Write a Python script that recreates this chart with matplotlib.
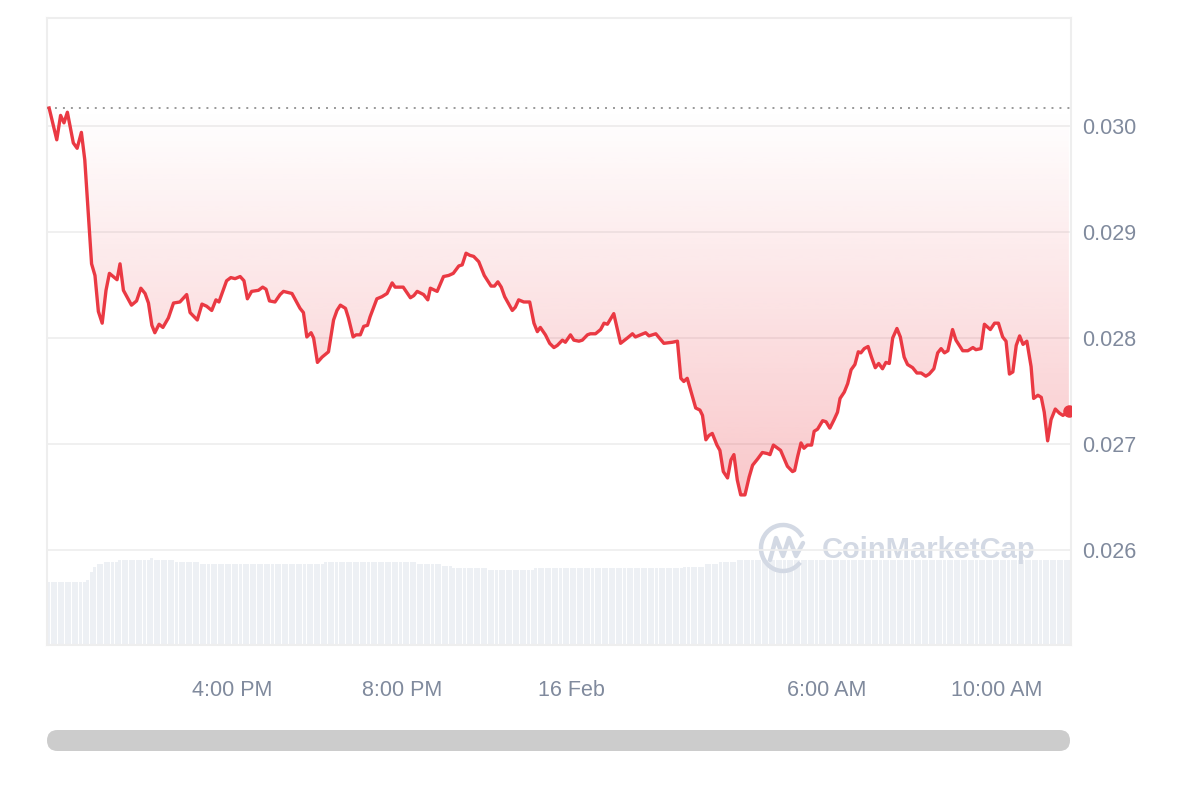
import numpy as np
import matplotlib
matplotlib.use("Agg")
import matplotlib.pyplot as plt
from matplotlib.patches import FancyBboxPatch, Arc

# price series, hours counted from 15 Feb 00:00
hours = [11.69, 11.87, 11.96, 12.04, 12.12, 12.26, 12.35, 12.45, 12.53, 12.69,
         12.77, 12.85, 12.94, 13.03, 13.11, 13.29, 13.36, 13.44, 13.63, 13.75,
         13.85, 13.95, 14.03, 14.11, 14.18, 14.28, 14.37, 14.50, 14.62, 14.77,
         14.93, 15.01, 15.18, 15.29, 15.40, 15.52, 15.62, 15.69, 15.87, 15.97,
         16.07, 16.19, 16.28, 16.36, 16.46, 16.62, 16.72, 16.80, 16.88, 17.01,
         17.13, 17.21, 17.41, 17.60, 17.68, 17.76, 17.86, 17.92, 18.01, 18.12,
         18.27, 18.39, 18.47, 18.55, 18.67, 18.74, 18.85, 18.92, 19.02, 19.10,
         19.19, 19.25, 19.41, 19.53, 19.65, 19.77, 19.84, 20.03, 20.20, 20.28,
         20.36, 20.51, 20.61, 20.67, 20.83, 20.98, 21.10, 21.21, 21.34, 21.42,
         21.51, 21.60, 21.69, 21.81, 21.94, 22.10, 22.18, 22.26, 22.34, 22.42,
         22.60, 22.67, 22.75, 22.87, 23.01, 23.11, 23.19, 23.26, 23.38, 23.48,
         23.58, 23.66, 23.78, 23.85, 23.97, 24.05, 24.17, 24.25, 24.37, 24.44,
         24.56, 24.68, 24.76, 24.84, 24.99, 25.15, 25.31, 25.43, 25.50, 25.62,
         25.74, 25.82, 25.98, 26.17, 26.37, 26.49, 26.57, 26.64, 26.72, 26.84,
         26.92, 27.02, 27.08, 27.16, 27.23, 27.31, 27.42, 27.49, 27.57, 27.67,
         27.75, 27.82, 27.90, 27.98, 28.08, 28.18, 28.26, 28.38, 28.49, 28.61,
         28.67, 28.75, 28.85, 28.92, 29.08, 29.20, 29.25, 29.32, 29.40, 29.47,
         29.55, 29.65, 29.71, 29.79, 29.91, 29.99, 30.08, 30.18, 30.26, 30.32,
         30.42, 30.50, 30.58, 30.67, 30.75, 30.81, 30.89, 30.98, 31.06, 31.15,
         31.23, 31.32, 31.40, 31.48, 31.56, 31.66, 31.74, 31.83, 31.91, 32.03,
         32.13, 32.23, 32.34, 32.42, 32.53, 32.62, 32.70, 32.78, 32.86, 32.97,
         33.05, 33.21, 33.33, 33.45, 33.52, 33.64, 33.72, 33.86, 33.96, 34.05,
         34.15, 34.23, 34.31, 34.39, 34.47, 34.55, 34.63, 34.72, 34.82, 34.88,
         34.98, 35.06, 35.13, 35.21, 35.29, 35.39, 35.49, 35.57, 35.71]

price = [0.03017, 0.02987, 0.03010, 0.03003, 0.03013, 0.02984, 0.02979, 0.02994, 0.02968, 0.02870,
         0.02859, 0.02825, 0.02814, 0.02845, 0.02861, 0.02855, 0.02870, 0.02845, 0.02831, 0.02835,
         0.02847, 0.02842, 0.02833, 0.02812, 0.02805, 0.02813, 0.02810, 0.02819, 0.02833, 0.02834,
         0.02841, 0.02824, 0.02817, 0.02832, 0.02830, 0.02826, 0.02836, 0.02834, 0.02854, 0.02857,
         0.02856, 0.02858, 0.02854, 0.02837, 0.02844, 0.02845, 0.02848, 0.02846, 0.02835, 0.02834,
         0.02841, 0.02844, 0.02842, 0.02828, 0.02824, 0.02801, 0.02805, 0.02800, 0.02777, 0.02782,
         0.02787, 0.02817, 0.02826, 0.02831, 0.02828, 0.02819, 0.02801, 0.02803, 0.02803, 0.02811,
         0.02812, 0.02820, 0.02837, 0.02839, 0.02842, 0.02852, 0.02848, 0.02848, 0.02838, 0.02840,
         0.02844, 0.02841, 0.02836, 0.02847, 0.02844, 0.02858, 0.02859, 0.02861, 0.02868, 0.02869,
         0.02880, 0.02878, 0.02877, 0.02872, 0.02859, 0.02849, 0.02849, 0.02853, 0.02848, 0.02839,
         0.02826, 0.02829, 0.02836, 0.02834, 0.02834, 0.02814, 0.02806, 0.02810, 0.02803, 0.02795,
         0.02791, 0.02793, 0.02798, 0.02796, 0.02803, 0.02798, 0.02797, 0.02798, 0.02803, 0.02804,
         0.02804, 0.02808, 0.02814, 0.02813, 0.02823, 0.02795, 0.02800, 0.02804, 0.02801, 0.02803,
         0.02805, 0.02802, 0.02804, 0.02795, 0.02796, 0.02797, 0.02762, 0.02759, 0.02762, 0.02745,
         0.02734, 0.02732, 0.02727, 0.02704, 0.02708, 0.02710, 0.02699, 0.02694, 0.02674, 0.02668,
         0.02685, 0.02690, 0.02666, 0.02652, 0.02652, 0.02669, 0.02680, 0.02686, 0.02692, 0.02691,
         0.02690, 0.02699, 0.02696, 0.02694, 0.02679, 0.02674, 0.02675, 0.02688, 0.02701, 0.02696,
         0.02699, 0.02699, 0.02712, 0.02714, 0.02722, 0.02721, 0.02715, 0.02723, 0.02730, 0.02743,
         0.02749, 0.02757, 0.02770, 0.02775, 0.02787, 0.02786, 0.02790, 0.02792, 0.02782, 0.02772,
         0.02776, 0.02771, 0.02777, 0.02776, 0.02800, 0.02809, 0.02801, 0.02782, 0.02775, 0.02772,
         0.02767, 0.02767, 0.02764, 0.02766, 0.02771, 0.02786, 0.02790, 0.02786, 0.02788, 0.02808,
         0.02798, 0.02788, 0.02788, 0.02791, 0.02789, 0.02790, 0.02813, 0.02808, 0.02814, 0.02814,
         0.02801, 0.02797, 0.02766, 0.02768, 0.02793, 0.02802, 0.02794, 0.02797, 0.02773, 0.02743,
         0.02746, 0.02744, 0.02730, 0.02703, 0.02723, 0.02733, 0.02729, 0.02727, 0.02731]

open_price = 0.03017

# volume (5-minute bars), given as runs of equal height
vol_level = [6.27, 6.5, 7.27, 7.83, 8.07, 8.27, 8.47, 8.67, 8.47, 8.27, 8.07,
             8.27, 8.07, 7.87, 7.67, 7.47, 7.67, 7.83, 8.1, 8.27, 8.47, 8.5]
vol_count = [11, 1, 1, 1, 2, 4, 9, 1, 6, 7, 35,
             26, 7, 3, 10, 13, 42, 6, 4, 5, 5, 89]

tick_hours = [16, 20, 24, 30, 34]
tick_labels = ["4:00 PM", "8:00 PM", "16 Feb", "6:00 AM", "10:00 AM"]
price_ticks = [0.026, 0.027, 0.028, 0.029, 0.030]

red = "#ea3943"
grey_txt = "#808a9d"
plt.rcParams["font.family"] = ["Liberation Sans", "DejaVu Sans"]

fig = plt.figure(figsize=(12, 8), dpi=100)
W, H = 1200, 800
ax = fig.add_axes([47 / W, 1 - 645 / H, (1071 - 47) / W, (645 - 18) / H])
x0, x1 = 11.64, 35.76

# volume on its own axis, underneath
axv = ax.twinx()
vols = np.repeat(vol_level, vol_count)
edges = np.linspace(x0, x1, len(vols) + 1)
step = edges[1] - edges[0]
axv.bar(edges[:-1], vols, width=step * 0.85, align="edge", color="#edf0f4", linewidth=0)
axv.set_ylim(0, 62.7)
axv.set_yticks([])
for s in axv.spines.values():
    s.set_visible(False)
ax.set_zorder(axv.get_zorder() + 1)
ax.patch.set_visible(False)

# gradient fill between the line and the opening price
pmin = min(price)
poly = ax.fill_between(hours, price, open_price, facecolor="none", edgecolor="none")
grad = np.zeros((256, 1, 4))
grad[:, 0, :3] = matplotlib.colors.to_rgb(red)
grad[:, 0, 3] = np.linspace(0.28, 0.0, 256)
im = ax.imshow(grad, extent=[x0, x1, pmin, open_price], origin="lower",
               aspect="auto", zorder=2, interpolation="bilinear")
im.set_clip_path(poly.get_paths()[0], transform=ax.transData)

ax.plot(hours, price, color=red, lw=2.4, zorder=4, solid_joinstyle="round")
ax.plot(hours[-1], price[-1], "o", color=red, ms=8, zorder=5)
ax.axhline(open_price, color="#999999", lw=1.4, ls=(0, (1, 3.1)), zorder=3)

ax.set_xlim(x0, x1)
ax.set_ylim(0.025104, 0.031019)
ax.set_yticks(price_ticks)
ax.set_yticklabels([f"{v:.3f}" for v in price_ticks])
ax.yaxis.tick_right()
ax.set_xticks(tick_hours)
ax.set_xticklabels(tick_labels)
ax.tick_params(axis="y", length=0, pad=8, labelsize=15.5, labelcolor=grey_txt)
ax.tick_params(axis="x", length=0, pad=25, labelsize=15.5, labelcolor=grey_txt)
ax.grid(axis="y", color="#eeeeee", lw=1.2, zorder=1)
ax.set_axisbelow(True)
for s in ax.spines.values():
    s.set_color("#eeeeee")
    s.set_linewidth(1.5)

# overlay in pixel coords: watermark and scrollbar
ov = fig.add_axes([0, 0, 1, 1])
ov.set_xlim(0, W)
ov.set_ylim(H, 0)
ov.axis("off")
wm = "#d3d9e4"
ov.add_patch(Arc((783, 548), 44, 46, theta1=40, theta2=330, color=wm, lw=3.2))
ov.plot([770, 776, 783, 789, 796, 803], [560, 538, 556, 538, 556, 543],
        color=wm, lw=3.2, solid_joinstyle="round", solid_capstyle="round")
ov.text(822, 558, "CoinMarketCap", color=wm, fontsize=21, fontweight="semibold",
        va="baseline", ha="left")
ov.add_patch(FancyBboxPatch((47, 730), 1023, 21, boxstyle="round,pad=0,rounding_size=10.5",
                            facecolor="#cccccc", edgecolor="none"))

fig.savefig("out.png", dpi=100)
